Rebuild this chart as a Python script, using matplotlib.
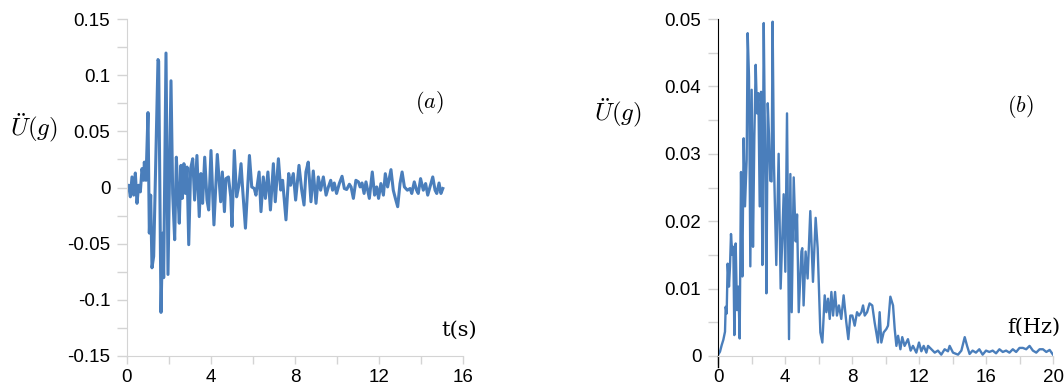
import numpy as np
from matplotlib import pyplot as plt
from matplotlib.ticker import MultipleLocator

plt.rcParams['font.family'] = ['Liberation Sans', 'DejaVu Sans']
plt.rcParams['mathtext.fontset'] = 'cm'

#**************
# DATA
# (a) acceleration record, t in s, U'' in g
t_a = [0, 0.079, 0.159, 0.238, 0.317, 0.397, 0.476, 0.556, 0.635, 0.714,
       0.794, 0.825, 0.905, 1.0, 1.063, 1.127, 1.19, 1.27, 1.476, 1.508,
       1.619, 1.698, 1.746, 1.857, 1.952, 2.095, 2.175, 2.27, 2.35, 2.43,
       2.49, 2.57, 2.63, 2.71, 2.78, 2.86, 2.94, 3.03, 3.13, 3.22,
       3.33, 3.44, 3.52, 3.60, 3.70, 3.81, 3.89, 4.0, 4.14, 4.30,
       4.46, 4.54, 4.64, 4.71, 4.83, 4.94, 5.0, 5.11, 5.22, 5.33,
       5.43, 5.51, 5.64, 5.83, 5.94, 6.06, 6.14, 6.29, 6.38, 6.49,
       6.59, 6.71, 6.83, 6.97, 7.06, 7.21, 7.32, 7.41, 7.57, 7.70,
       7.79, 7.92, 8.03, 8.19, 8.32, 8.43, 8.52, 8.63, 8.76, 8.87,
       9.0, 9.11, 9.22, 9.35, 9.48, 9.59, 9.70, 9.79, 9.87, 9.98,
       10.11, 10.24, 10.35, 10.46, 10.59, 10.67, 10.78, 10.90, 11.02, 11.10,
       11.19, 11.29, 11.38, 11.54, 11.68, 11.79, 11.89, 11.98, 12.09, 12.21,
       12.30, 12.41, 12.57, 12.68, 12.78, 12.89, 13.0, 13.10, 13.21, 13.35,
       13.48, 13.56, 13.68, 13.79, 13.87, 13.98, 14.11, 14.22, 14.32, 14.43,
       14.56, 14.67, 14.75, 14.86, 14.95, 15.04]
acc_a = [0.0006, 0.002, -0.0083, 0.0094, -0.0068, 0.0129, -0.0141, 0.002, -0.0039, 0.0168,
         0.0064, 0.0226, 0.0064, 0.0667, -0.0406, -0.0068, -0.0715, -0.0612, 0.1139, 0.1124,
         -0.1112, -0.0406, -0.0803, 0.1197, -0.0774, 0.095, -0.0053, -0.0465, 0.027, -0.0083,
         -0.0318, 0.0197, -0.0097, 0.0212, -0.0053, 0.0182, -0.0509, 0.0168, 0.0256, -0.0112,
         0.0285, -0.0259, 0.0124, -0.0141, 0.027, -0.0112, -0.02, 0.0329, -0.0333, 0.0294,
         -0.0127, 0.0138, -0.0215, 0.0079, 0.0094, -0.0083, -0.0347, 0.0329, -0.0083, 0.002,
         0.0212, -0.0023, -0.0362, 0.0285, 0.0005, -0.0009, -0.0068, 0.0138, -0.0215, 0.0094,
         -0.0097, 0.0138, -0.02, 0.0212, -0.0127, 0.0256, -0.0023, 0.0064, -0.0288, 0.0124,
         0.002, 0.0124, -0.0112, 0.0197, -0.0024, -0.0156, 0.0138, 0.0226, -0.0127, 0.0147,
         -0.0141, 0.0094, -0.0024, 0.0094, -0.0068, 0.0005, 0.0064, -0.0024, 0.004, -0.0053,
         0.0035, 0.01, -0.0009, -0.0018, 0.0029, 0.0005, -0.0097, 0.0064, 0.005, 0.0005,
         0.004, -0.0053, 0.005, -0.0097, 0.0138, -0.0068, 0.0005, -0.0097, 0.0035, -0.0068,
         0.0123, 0.0005, 0.0159, -0.0024, -0.0097, -0.0171, 0.0035, 0.0138, 0.0005, -0.0024,
         -0.0009, -0.0053, 0.005, -0.0024, -0.0053, 0.0079, -0.0024, 0.0035, -0.0068, 0.0005,
         0.0094, -0.0024, -0.0053, 0.004, -0.0053, -0.0009]

# (b) Fourier amplitude, f in Hz
f_b = [0, 0.119, 0.219, 0.318, 0.418, 0.458, 0.517, 0.577, 0.657, 0.716,
       0.776, 0.856, 0.915, 0.975, 1.055, 1.134, 1.214, 1.294, 1.373, 1.453,
       1.532, 1.612, 1.711, 1.771, 1.851, 1.93, 2.01, 2.09, 2.17, 2.25,
       2.33, 2.41, 2.49, 2.57, 2.65, 2.73, 2.81, 2.89, 2.97, 3.04,
       3.12, 3.20, 3.26, 3.34, 3.48, 3.62, 3.74, 3.92, 4.02, 4.12,
       4.24, 4.32, 4.40, 4.52, 4.64, 4.72, 4.82, 4.98, 5.03, 5.11,
       5.23, 5.35, 5.51, 5.67, 5.83, 5.95, 6.11, 6.23, 6.37, 6.47,
       6.57, 6.67, 6.77, 6.87, 6.99, 7.10, 7.22, 7.36, 7.50, 7.66,
       7.78, 7.90, 8.02, 8.16, 8.30, 8.42, 8.56, 8.66, 8.76, 8.90,
       9.05, 9.21, 9.35, 9.45, 9.55, 9.65, 9.75, 9.89, 10.05, 10.15,
       10.29, 10.45, 10.55, 10.65, 10.75, 10.89, 11.0, 11.14, 11.34, 11.5,
       11.64, 11.84, 12.0, 12.14, 12.28, 12.44, 12.54, 12.74, 12.94, 13.13,
       13.33, 13.53, 13.73, 13.83, 14.03, 14.33, 14.53, 14.73, 14.87, 15.02,
       15.2, 15.4, 15.6, 15.8, 16.0, 16.2, 16.4, 16.6, 16.8, 17.0,
       17.2, 17.4, 17.6, 17.8, 18.0, 18.2, 18.4, 18.6, 18.8, 19.0,
       19.2, 19.4, 19.6, 19.8, 20.0]
amp_b = [0.00015, 0.00064, 0.0016, 0.0024, 0.0036, 0.0073, 0.0063, 0.0137, 0.0103, 0.0133,
         0.0181, 0.015, 0.0162, 0.0031, 0.0167, 0.0068, 0.0103, 0.0026, 0.0273, 0.0118,
         0.0323, 0.0222, 0.0291, 0.0479, 0.0414, 0.0133, 0.0395, 0.0162, 0.0325, 0.0432,
         0.036, 0.039, 0.0222, 0.0392, 0.0135, 0.0494, 0.0306, 0.0093, 0.0375, 0.033,
         0.026, 0.0259, 0.0496, 0.0286, 0.0135, 0.030, 0.010, 0.024, 0.0125, 0.036,
         0.0025, 0.027, 0.0065, 0.0265, 0.017, 0.021, 0.0065, 0.0155, 0.016, 0.0075,
         0.0155, 0.0115, 0.0215, 0.011, 0.0205, 0.016, 0.0035, 0.002, 0.009, 0.0065,
         0.0085, 0.0055, 0.0095, 0.006, 0.0095, 0.006, 0.0075, 0.0055, 0.009, 0.005,
         0.0025, 0.006, 0.006, 0.0045, 0.0065, 0.006, 0.0065, 0.0075, 0.006, 0.0065,
         0.0078, 0.0075, 0.005, 0.0035, 0.002, 0.0065, 0.002, 0.0035, 0.004, 0.0045,
         0.0088, 0.0075, 0.004, 0.0015, 0.003, 0.001, 0.0028, 0.0015, 0.0025, 0.0008,
         0.0015, 0.0005, 0.002, 0.0007, 0.0015, 0.0005, 0.0015, 0.001, 0.0005, 0.0008,
         0.0002, 0.001, 0.0007, 0.0015, 0.0005, 0.0002, 0.0008, 0.0028, 0.0015, 0.0003,
         0.0008, 0.0005, 0.001, 0.0002, 0.0008, 0.0006, 0.0008, 0.0004, 0.001, 0.0006,
         0.0008, 0.0005, 0.001, 0.0006, 0.0012, 0.0012, 0.001, 0.0015, 0.0008, 0.0005,
         0.001, 0.001, 0.0006, 0.0009, 0.0002]
#**************

blue = '#4a7ebb'
grey = '#d4d4d4'

fig = plt.figure(figsize=(10.64, 3.91), dpi=100)

# ---- panel (a)
ax1 = fig.add_axes([127/1064, 35/391, 336/1064, 337/391])
ax1.plot(t_a, acc_a, color=blue, lw=2.2)
ax1.set_xlim(0, 16)
ax1.set_ylim(-0.15, 0.15)
ax1.set_yticks([-0.15, -0.1, -0.05, 0, 0.05, 0.1, 0.15])
ax1.set_yticklabels(['-0.15', '-0.1', '-0.05', '0', '0.05', '0.1', '0.15'])
ax1.yaxis.set_minor_locator(MultipleLocator(0.025))
ax1.set_xticks([0, 4, 8, 12, 16])
ax1.set_xticklabels(['0', '4', '8', '12', '16'])
ax1.xaxis.set_minor_locator(MultipleLocator(2))
for s in ['top', 'right']:
    ax1.spines[s].set_visible(False)
for s in ['left', 'bottom']:
    ax1.spines[s].set_color(grey)
ax1.tick_params(which='both', color=grey, length=7, width=1, labelsize=13.5, pad=5)
ax1.tick_params(axis='x', which='both', length=6, pad=3)
# a couple of the ticks are drawn dark in the original
for tk in ax1.yaxis.get_major_ticks():
    if abs(tk.get_loc() - 0.1) < 1e-9:
        tk.tick1line.set_color('black')
for tk in ax1.yaxis.get_minor_ticks():
    if abs(tk.get_loc() + 0.075) < 1e-9:
        tk.tick1line.set_color('black')
for tk in ax1.xaxis.get_minor_ticks():
    if abs(tk.get_loc() - 6) < 1e-9:
        tk.tick1line.set_color('black')
for tk in ax1.xaxis.get_major_ticks():
    if abs(tk.get_loc() - 16) < 1e-9:
        tk.tick1line.set_color('black')

fig.text(10/1064, 1 - 128/391, r'$\ddot{U}(g)$', fontsize=18, va='center', ha='left')
fig.text(429/1064, 1 - 102/391, r'$(a)$', fontsize=16, va='center', ha='center')
fig.text(459/1064, 1 - 330/391, 't(s)', family='DejaVu Serif', fontsize=15,
         va='center', ha='center')

# ---- panel (b)
ax2 = fig.add_axes([718/1064, 35/391, 335/1064, 337/391])
ax2.plot(f_b, amp_b, color=blue, lw=1.7)
ax2.set_xlim(0, 20)
ax2.set_ylim(0, 0.05)
ax2.set_yticks([0, 0.01, 0.02, 0.03, 0.04, 0.05])
ax2.set_yticklabels(['0', '0.01', '0.02', '0.03', '0.04', '0.05'])
ax2.yaxis.set_minor_locator(MultipleLocator(0.005))
ax2.set_xticks([0, 4, 8, 12, 16, 20])
ax2.set_xticklabels(['0', '4', '8', '12', '16', '20'])
ax2.xaxis.set_minor_locator(MultipleLocator(2))
for s in ['top', 'right']:
    ax2.spines[s].set_visible(False)
ax2.spines['left'].set_color('black')
ax2.spines['bottom'].set_color(grey)
ax2.tick_params(which='both', color=grey, length=7, width=1, labelsize=13.5, pad=5)
ax2.tick_params(axis='x', which='both', length=6, pad=3)
for tk in ax2.yaxis.get_minor_ticks():
    if abs(tk.get_loc() - 0.045) < 1e-9:
        tk.tick1line.set_color('black')
ax2.plot([0, 0], [0, -11/337], transform=ax2.transAxes, color='black', lw=1, clip_on=False)

fig.text(594/1064, 1 - 113/391, r'$\ddot{U}(g)$', fontsize=18, va='center', ha='left')
fig.text(1020/1064, 1 - 106/391, r'$(b)$', fontsize=16, va='center', ha='center')
fig.text(1034/1064, 1 - 327/391, 'f(Hz)', family='DejaVu Serif', fontsize=15,
         va='center', ha='center')

fig.savefig('out.png', dpi=100)
